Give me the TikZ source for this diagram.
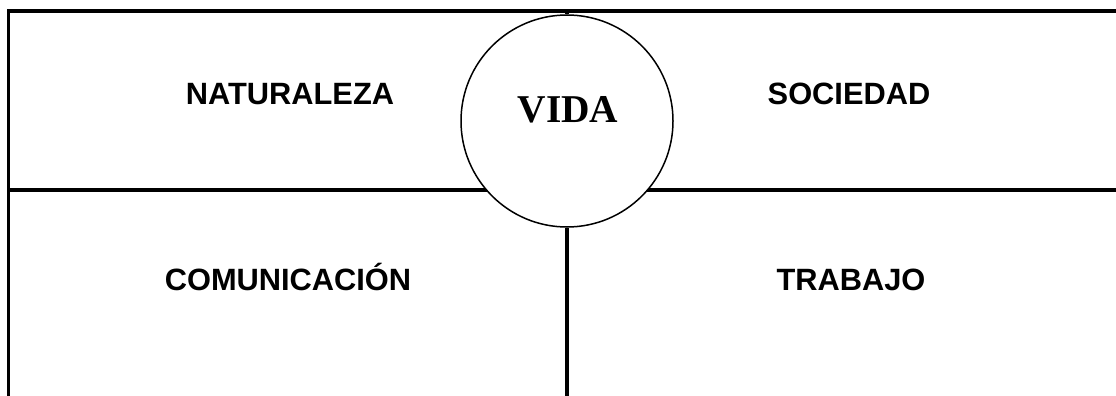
\documentclass[tikz,border=0pt]{standalone}
\usepackage{fontspec}
\newfontfamily\boxfont{Liberation Sans}
\newfontfamily\vidafont{Liberation Serif}
\usetikzlibrary{positioning}

\tikzset{
    area/.style={anchor=base,font=\boxfont\bfseries\fontsize{30.8}{34}\selectfont},
    rule/.style={line width=3.4pt}
}

\begin{document}
\begin{tikzpicture}[x=1pt,y=-1pt]
    \useasboundingbox (0,0) rectangle (1116,396);
    % frame
    \coordinate (TL) at (7,11);
    \coordinate (TR) at (1116,11);
    \coordinate (BL) at (8.5,396);
    \coordinate (ML) at (8.5,190);
    \coordinate (MR) at (1116,190);
    \coordinate (TC) at (567,11);
    \coordinate (BC) at (567,396);
    \draw[rule] (TL) -- (TR);
    \draw[rule] (8.5,9.5) -- (BL);
    \draw[rule] (ML) -- (MR);

    \node[draw,circle,fill=white,line width=1.5pt,minimum size=212pt,inner sep=0pt] (vida) at (567,121) {};
    \node[anchor=base,font=\vidafont\bfseries\fontsize{39.4}{42}\selectfont] (vidatext) at (568,122) {VIDA};

    \draw[rule] (TC) -- (vida.north);
    \draw[rule] (vida.south) -- (BC);

    \node[area] (nat) at (290,104) {NATURALEZA};
    \node[area] (soc) at (849,104) {SOCIEDAD};
    \node[area] (com) at (288,290) {COMUNICACIÓN};
    \node[area] (tra) at (851,290) {TRABAJO};
\end{tikzpicture}
\end{document}
